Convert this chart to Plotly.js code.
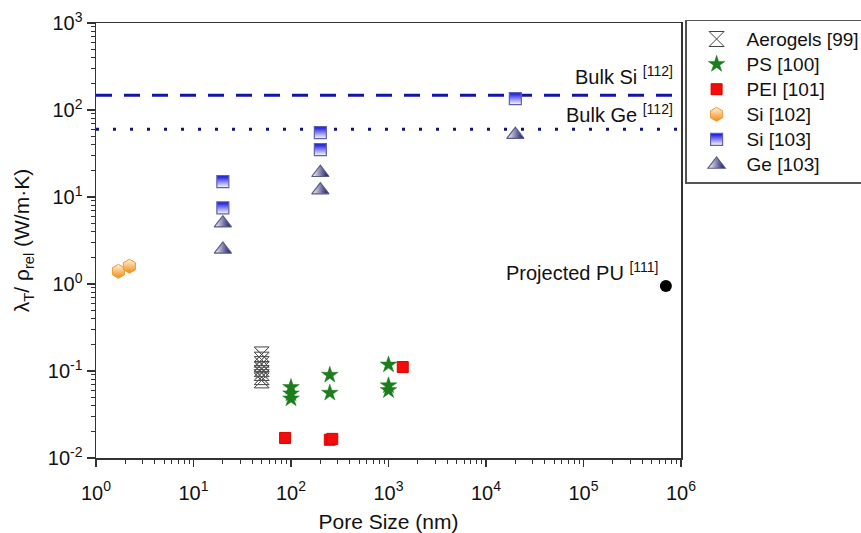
<!DOCTYPE html>
<html>
<head>
<meta charset="utf-8">
<script src="https://cdn.plot.ly/plotly-3.0.1.min.js"></script>
<style>html,body{margin:0;padding:0;background:#fff;}#chart{width:861px;height:533px;}</style>
</head>
<body>
<div id="chart"></div>
<script>
// ---- data ----
const seriesNames = ['Aerogels [99]', 'PS [100]', 'PEI [101]', 'Si [102]', 'Si [103]', 'Ge [103]'];
const aerogelX = [50, 50, 50, 50, 50, 50, 50];
const aerogelY = [0.155, 0.135, 0.12, 0.105, 0.095, 0.085, 0.078];
const psX = [100, 100, 100, 250, 250, 1000, 1000, 1000];
const psY = [0.065, 0.055, 0.048, 0.09, 0.056, 0.118, 0.068, 0.06];
const peiX = [87, 250, 265, 1400];
const peiY = [0.017, 0.0162, 0.0166, 0.111];
const si102X = [1.7, 2.2];
const si102Y = [1.4, 1.6];
const si103X = [20, 20, 200, 200, 20000];
const si103Y = [15, 7.5, 55, 35, 135];
const ge103X = [20, 20, 200, 200, 20000];
const ge103Y = [5.0, 2.5, 19, 12, 52];
const puX = [7e5];
const puY = [0.95];
const bulkX = [1, 1e6];
const bulkSiY = [148, 148];
const bulkGeY = [60, 60];
const xTickVals = [1, 10, 100, 1000, 10000, 100000, 1000000];
const xTickText = ['10<sup>0</sup>', '10<sup>1</sup>', '10<sup>2</sup>', '10<sup>3</sup>', '10<sup>4</sup>', '10<sup>5</sup>', '10<sup>6</sup>'];
const yTickVals = [0.01, 0.1, 1, 10, 100, 1000];
const yTickText = ['10<sup>-2</sup>', '10<sup>-1</sup>', '10<sup>0</sup>', '10<sup>1</sup>', '10<sup>2</sup>', '10<sup>3</sup>'];

const FONT = 'Liberation Sans, Arial, sans-serif';
const nm = s => '<span style="font-size:19px">' + s + '</span>';

const traces = [
  {x: bulkX, y: bulkSiY, mode: 'lines', showlegend: false, hoverinfo: 'skip',
   line: {color: '#1414a8', width: 3, dash: '16px,12px'}},
  {x: bulkX, y: bulkGeY, mode: 'lines', showlegend: false, hoverinfo: 'skip',
   line: {color: '#141478', width: 3, dash: '3px,14px'}},
  {x: aerogelX, y: aerogelY, mode: 'markers', name: nm(seriesNames[0]),
   marker: {symbol: 'hourglass-open', size: 15, color: '#444', line: {width: 1, color: '#444'}}},
  {x: aerogelX, y: aerogelY, mode: 'markers', showlegend: false, hoverinfo: 'skip',
   marker: {symbol: 'x-thin-open', size: 12, color: '#555', line: {width: 0.8, color: '#555'}}},
  {x: psX, y: psY, mode: 'markers', name: nm(seriesNames[1]),
   marker: {symbol: 'star', size: 12.5, color: '#1b7d1b', line: {width: 0.5, color: '#1b7d1b'}}},
  {x: peiX, y: peiY, mode: 'markers', name: nm(seriesNames[2]),
   marker: {symbol: 'square', size: 11, color: '#f20c0c', line: {width: 1, color: '#d00'}}},
  {x: si102X, y: si102Y, mode: 'markers', name: nm(seriesNames[3]),
   marker: {symbol: 'hexagon', size: 14, color: '#fff4e0', gradient: {type: 'vertical', color: '#ef8a10'},
            line: {width: 1, color: '#f09a30'}}},
  {x: si103X, y: si103Y, mode: 'markers', name: nm(seriesNames[4]),
   marker: {symbol: 'square', size: 12, color: '#0a0ae6', gradient: {type: 'vertical', color: '#ffffff'},
            line: {width: 1.2, color: '#6060b0'}}},
  {x: ge103X, y: ge103Y, mode: 'markers', name: nm(seriesNames[5]),
   marker: {symbol: 'triangle-up', size: 15, color: '#ffffff', gradient: {type: 'horizontal', color: '#0c0c60'},
            line: {width: 1.2, color: '#5a5a8a'}}},
  {x: puX, y: puY, mode: 'markers', showlegend: false,
   marker: {symbol: 'circle', size: 12, color: '#000'}}
];

const layout = {
  width: 861, height: 533,
  margin: {l: 96, r: 180, t: 23, b: 75, autoexpand: false},
  paper_bgcolor: '#fff', plot_bgcolor: '#fff',
  font: {family: FONT, size: 20, color: '#111'},
  showlegend: true,
  legend: {x: 1.007, y: 1.007, xanchor: 'left', yanchor: 'top', xref: 'paper', yref: 'paper',
           bordercolor: '#555', borderwidth: 1.5, bgcolor: '#fff', font: {family: FONT, size: 17, color: '#111'},
           itemwidth: 50},
  xaxis: {type: 'log', range: [0, 6], tickmode: 'array', tickvals: xTickVals, ticktext: xTickText,
          ticks: 'outside', ticklen: 7, tickwidth: 1.2, tickcolor: '#333', ticklabelstandoff: 9,
          minor: {ticks: 'outside', ticklen: 4, tickwidth: 1, tickcolor: '#333', dtick: 'D1', showgrid: false},
          showline: true, linecolor: '#333', linewidth: 1.5, mirror: true, showgrid: false, zeroline: false,
          tickfont: {family: FONT, size: 20, color: '#111'},
          title: {text: 'Pore Size (nm)', font: {family: FONT, size: 21, color: '#111'}, standoff: 12}},
  yaxis: {type: 'log', range: [-2, 3], tickmode: 'array', tickvals: yTickVals, ticktext: yTickText,
          ticks: 'outside', ticklen: 8, tickwidth: 1.2, tickcolor: '#333',
          minor: {ticks: 'outside', ticklen: 4, tickwidth: 1, tickcolor: '#333', dtick: 'D1', showgrid: false},
          showline: true, linecolor: '#333', linewidth: 1.5, mirror: true, showgrid: false, zeroline: false,
          tickfont: {family: FONT, size: 20, color: '#111'},
          title: {text: 'λ<sub>T</sub>/ ρ<sub>rel</sub> (W/m·K)', font: {family: FONT, size: 21, color: '#111'}, standoff: 12}},
  annotations: [
    {xref: 'paper', yref: 'paper', x: 0.99, y: 0.88, xanchor: 'right', yanchor: 'middle', showarrow: false,
     text: 'Bulk Si <sup>[112]</sup>', font: {family: FONT, size: 20, color: '#111'}},
    {xref: 'paper', yref: 'paper', x: 0.99, y: 0.793, xanchor: 'right', yanchor: 'middle', showarrow: false,
     text: 'Bulk Ge <sup>[112]</sup>', font: {family: FONT, size: 20, color: '#111'}},
    {xref: 'paper', yref: 'paper', x: 0.964, y: 0.428, xanchor: 'right', yanchor: 'middle', showarrow: false,
     text: 'Projected PU <sup>[111]</sup>', font: {family: FONT, size: 20, color: '#111'}}
  ]
};

Plotly.newPlot('chart', traces, layout, {staticPlot: true, displayModeBar: false});
</script>
</body>
</html>
